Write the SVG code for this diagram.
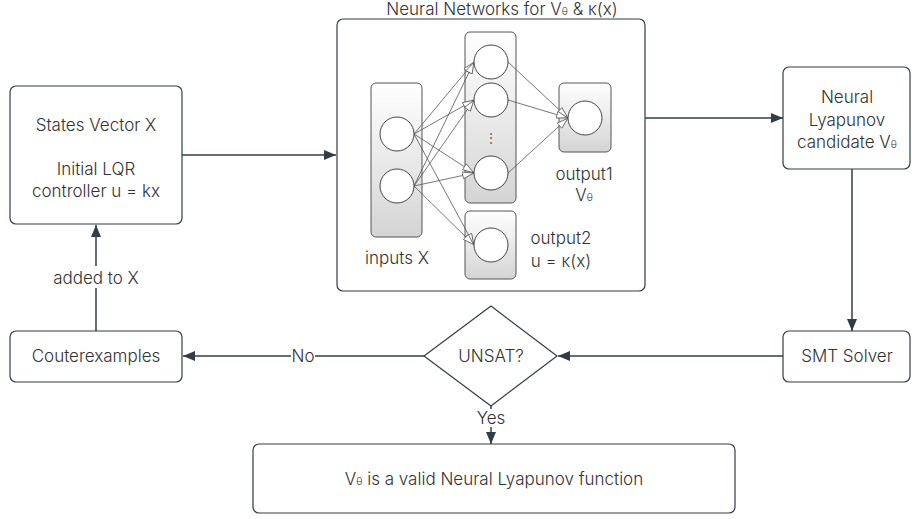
<svg xmlns="http://www.w3.org/2000/svg" width="912" height="519" viewBox="0 0 912 519">
<defs>
<linearGradient id="colg" x1="0" y1="0" x2="0" y2="1">
<stop offset="0" stop-color="#ffffff"/>
<stop offset="1" stop-color="#d4d4d4"/>
</linearGradient>
<marker id="ah" viewBox="0 0 12 10" refX="12" refY="5" markerWidth="12" markerHeight="10" markerUnits="userSpaceOnUse" orient="auto">
<path d="M0,0 L12,5 L0,10 Z" fill="#333d47"/>
</marker>
<marker id="oh" viewBox="0 0 12 8" refX="12" refY="4" markerWidth="12" markerHeight="8" markerUnits="userSpaceOnUse" orient="auto">
<path d="M0.5,0.5 L11.5,4 L0.5,7.5 Z" fill="#ffffff" stroke="#555" stroke-width="0.8"/>
</marker>
</defs>
<style>
text{font-family:Inter,"Liberation Sans",Arial,sans-serif;font-size:17px;font-weight:300;fill:#333;}
.box{fill:#fff;stroke:#333d47;stroke-width:1.2;}
.col{fill:url(#colg);stroke:#555;stroke-width:1;}
.neu{fill:#fff;stroke:#444;stroke-width:1;}
.conn{fill:none;stroke:#333d47;stroke-width:1.5;}
.nn{fill:none;stroke:#555;stroke-width:0.8;}
.m{text-anchor:middle;}
.sub{font-size:10px;}
</style>

<g id="connectors">
<line class="conn" x1="182" y1="155" x2="336" y2="155" marker-end="url(#ah)"/>
<line class="conn" x1="611" y1="118" x2="783" y2="118" marker-end="url(#ah)"/>
<line class="conn" x1="852" y1="169" x2="852" y2="331" marker-end="url(#ah)"/>
<line class="conn" x1="783" y1="356" x2="558" y2="356" marker-end="url(#ah)"/>
<line class="conn" x1="424" y1="356" x2="183" y2="356" marker-end="url(#ah)"/>
<line class="conn" x1="491" y1="406" x2="491" y2="444" marker-end="url(#ah)"/>
<line class="conn" x1="96" y1="331" x2="96" y2="225" marker-end="url(#ah)"/>
<rect x="291" y="348" width="24" height="16" fill="#fff"/>
<text class="m" x="303" y="362">No</text>
<rect x="474" y="409" width="34" height="18" fill="#fff"/>
<text class="m" x="491" y="424">Yes</text>
<rect x="46" y="266" width="100" height="22" fill="#fff"/>
<text class="m" x="96" y="284">added to X</text>
</g>

<g id="states">
<rect class="box" x="10" y="86" width="172" height="138" rx="6"/>
<text class="m" x="96" y="131">States Vector X</text>
<text class="m" x="96" y="175">Initial LQR</text>
<text class="m" x="96" y="197">controller u = kx</text>
</g>

<g id="counterexamples">
<rect class="box" x="10" y="331" width="172" height="51" rx="6"/>
<text class="m" x="96" y="362">Couterexamples</text>
</g>

<g id="nn">
<rect class="box" x="337" y="19" width="308" height="272" rx="6"/>
<text class="m" x="502" y="15">Neural Networks for V<tspan class="sub">θ</tspan> &amp; κ(x)</text>
<rect class="col" x="371" y="83" width="51" height="154" rx="5"/>
<rect class="col" x="465" y="32" width="51" height="171" rx="5"/>
<rect class="col" x="559" y="83" width="52" height="69" rx="5"/>
<rect class="col" x="465" y="211" width="51" height="68" rx="5"/>
<g id="nn-edges">
<line class="nn" x1="414" y1="134" x2="474" y2="62" marker-end="url(#oh)"/>
<line class="nn" x1="414" y1="134" x2="474" y2="100" marker-end="url(#oh)"/>
<line class="nn" x1="414" y1="134" x2="474" y2="173" marker-end="url(#oh)"/>
<line class="nn" x1="414" y1="134" x2="474" y2="245" marker-end="url(#oh)"/>
<line class="nn" x1="414" y1="186" x2="474" y2="62" marker-end="url(#oh)"/>
<line class="nn" x1="414" y1="186" x2="474" y2="100" marker-end="url(#oh)"/>
<line class="nn" x1="414" y1="186" x2="474" y2="173" marker-end="url(#oh)"/>
<line class="nn" x1="414" y1="186" x2="474" y2="245" marker-end="url(#oh)"/>
<line class="nn" x1="508" y1="62" x2="568" y2="118" marker-end="url(#oh)"/>
<line class="nn" x1="508" y1="100" x2="568" y2="118" marker-end="url(#oh)"/>
<line class="nn" x1="508" y1="173" x2="568" y2="118" marker-end="url(#oh)"/>
</g>
<circle class="neu" cx="397" cy="134" r="17"/>
<circle class="neu" cx="397" cy="186" r="17"/>
<circle class="neu" cx="491" cy="62" r="17"/>
<circle class="neu" cx="491" cy="100" r="17"/>
<circle class="neu" cx="491" cy="173" r="17"/>
<circle class="neu" cx="585" cy="118" r="17"/>
<circle class="neu" cx="491" cy="245" r="17"/>
<text class="m" x="491" y="142" style="font-size:12px;fill:#555">⋮</text>
<text class="m" x="397" y="264">inputs X</text>
<text class="m" x="584" y="180">output1</text>
<text class="m" x="584" y="201">V<tspan class="sub">θ</tspan></text>
<text class="m" x="561" y="244">output2</text>
<text class="m" x="561" y="267">u = κ(x)</text>
</g>

<g id="lyapunov">
<rect class="box" x="783" y="67" width="127" height="102" rx="6"/>
<text class="m" x="847" y="103">Neural</text>
<text class="m" x="847" y="126">Lyapunov</text>
<text class="m" x="847" y="148">candidate V<tspan class="sub">θ</tspan></text>
</g>

<g id="smt">
<rect class="box" x="783" y="331" width="127" height="51" rx="6"/>
<text class="m" x="847" y="362">SMT Solver</text>
</g>

<g id="unsat">
<path class="box" d="M491,306 L557,356 L491,406 L424,356 Z" stroke-linejoin="round"/>
<text class="m" x="491" y="362">UNSAT?</text>
</g>

<g id="valid">
<rect class="box" x="253" y="444" width="482" height="69" rx="6"/>
<text class="m" x="494" y="485">V<tspan class="sub">θ</tspan> is a valid Neural Lyapunov function</text>
</g>
</svg>
